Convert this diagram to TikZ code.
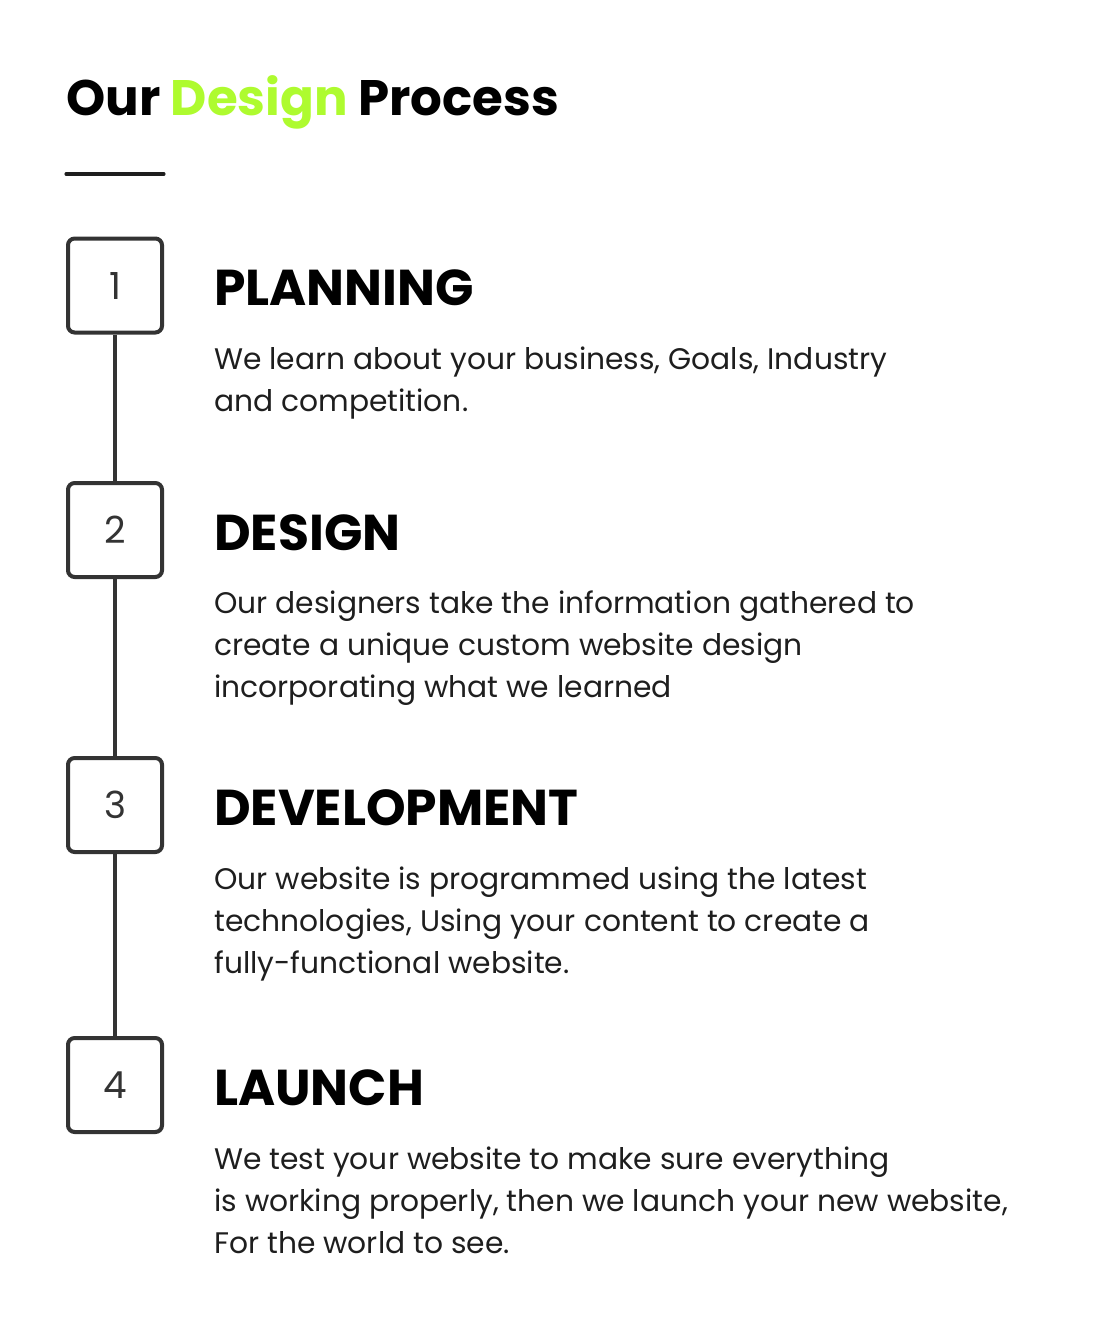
\documentclass[tikz,border=0pt]{standalone}
\usepackage{fontspec}
\setmainfont{Poppins}
\usepackage{xcolor}
\definecolor{limegreen}{HTML}{AEFB2F}
\definecolor{boxgray}{HTML}{333333}
\definecolor{bodygray}{HTML}{1E1E1E}

\tikzset{
  stepbox/.style={draw=boxgray, line width=3pt, rounded corners=5pt,
    minimum size=70.5pt, inner sep=0pt,
    font=\fontsize{28}{30}\selectfont, text=boxgray},
  steptitle/.style={anchor=base west, inner sep=0pt,
    font=\fontsize{37.8}{44}\selectfont\bfseries},
  steptext/.style={anchor=base west, inner sep=0pt, align=left,
    font=\fontsize{22.3}{31.5}\selectfont, text=bodygray},
  timeline/.style={draw=boxgray, line width=3pt}
}

\begin{document}
\begin{tikzpicture}[x=0.75pt,y=-0.75pt]
                \useasboundingbox
                    (0,0) rectangle (1100,1335);
                \node[anchor=base west, inner sep=0pt,
                      font=\fontsize{37.4}{44}\selectfont\bfseries] (title)
                    at (66,115) {Our \textcolor{limegreen}{Design} Process};
                \path[draw, line width=2.3pt, draw=bodygray, line cap=round]
                    (66,174) -- (164,174);
                % steps
                \node[stepbox] (b1) at (115,285.5) {1};
                \node[stepbox] (b2) at (115,530) {2};
                \node[stepbox] (b3) at (115,805) {3};
                \node[stepbox] (b4) at (115,1085) {4};
                \path[timeline] (b1.south) -- (b2.north);
                \path[timeline] (b2.south) -- (b3.north);
                \path[timeline] (b3.south) -- (b4.north);
                \node[steptitle] (t1) at (214,305) {PLANNING};
                \node[steptitle] (t2) at (214,550) {DESIGN};
                \node[steptitle] (t3) at (214,825) {DEVELOPMENT};
                \node[steptitle] (t4) at (214,1105) {LAUNCH};
                % text nodes sit on their last line
                \node[steptext] (d1) at (214,411)
                    {We learn about your business, Goals, Industry\\and competition.};
                \node[steptext] (d2) at (214,697)
                    {Our designers take the information gathered to\\create a unique custom website design\\incorporating what we learned};
                \node[steptext] (d3) at (214,973)
                    {Our website is programmed using the latest\\technologies, Using your content to create a\\fully-functional website.};
                \node[steptext] (d4) at (214,1253)
                    {We test your website to make sure everything\\is working properly, then we launch your new website,\\For the world to see.};
\end{tikzpicture}
\end{document}
